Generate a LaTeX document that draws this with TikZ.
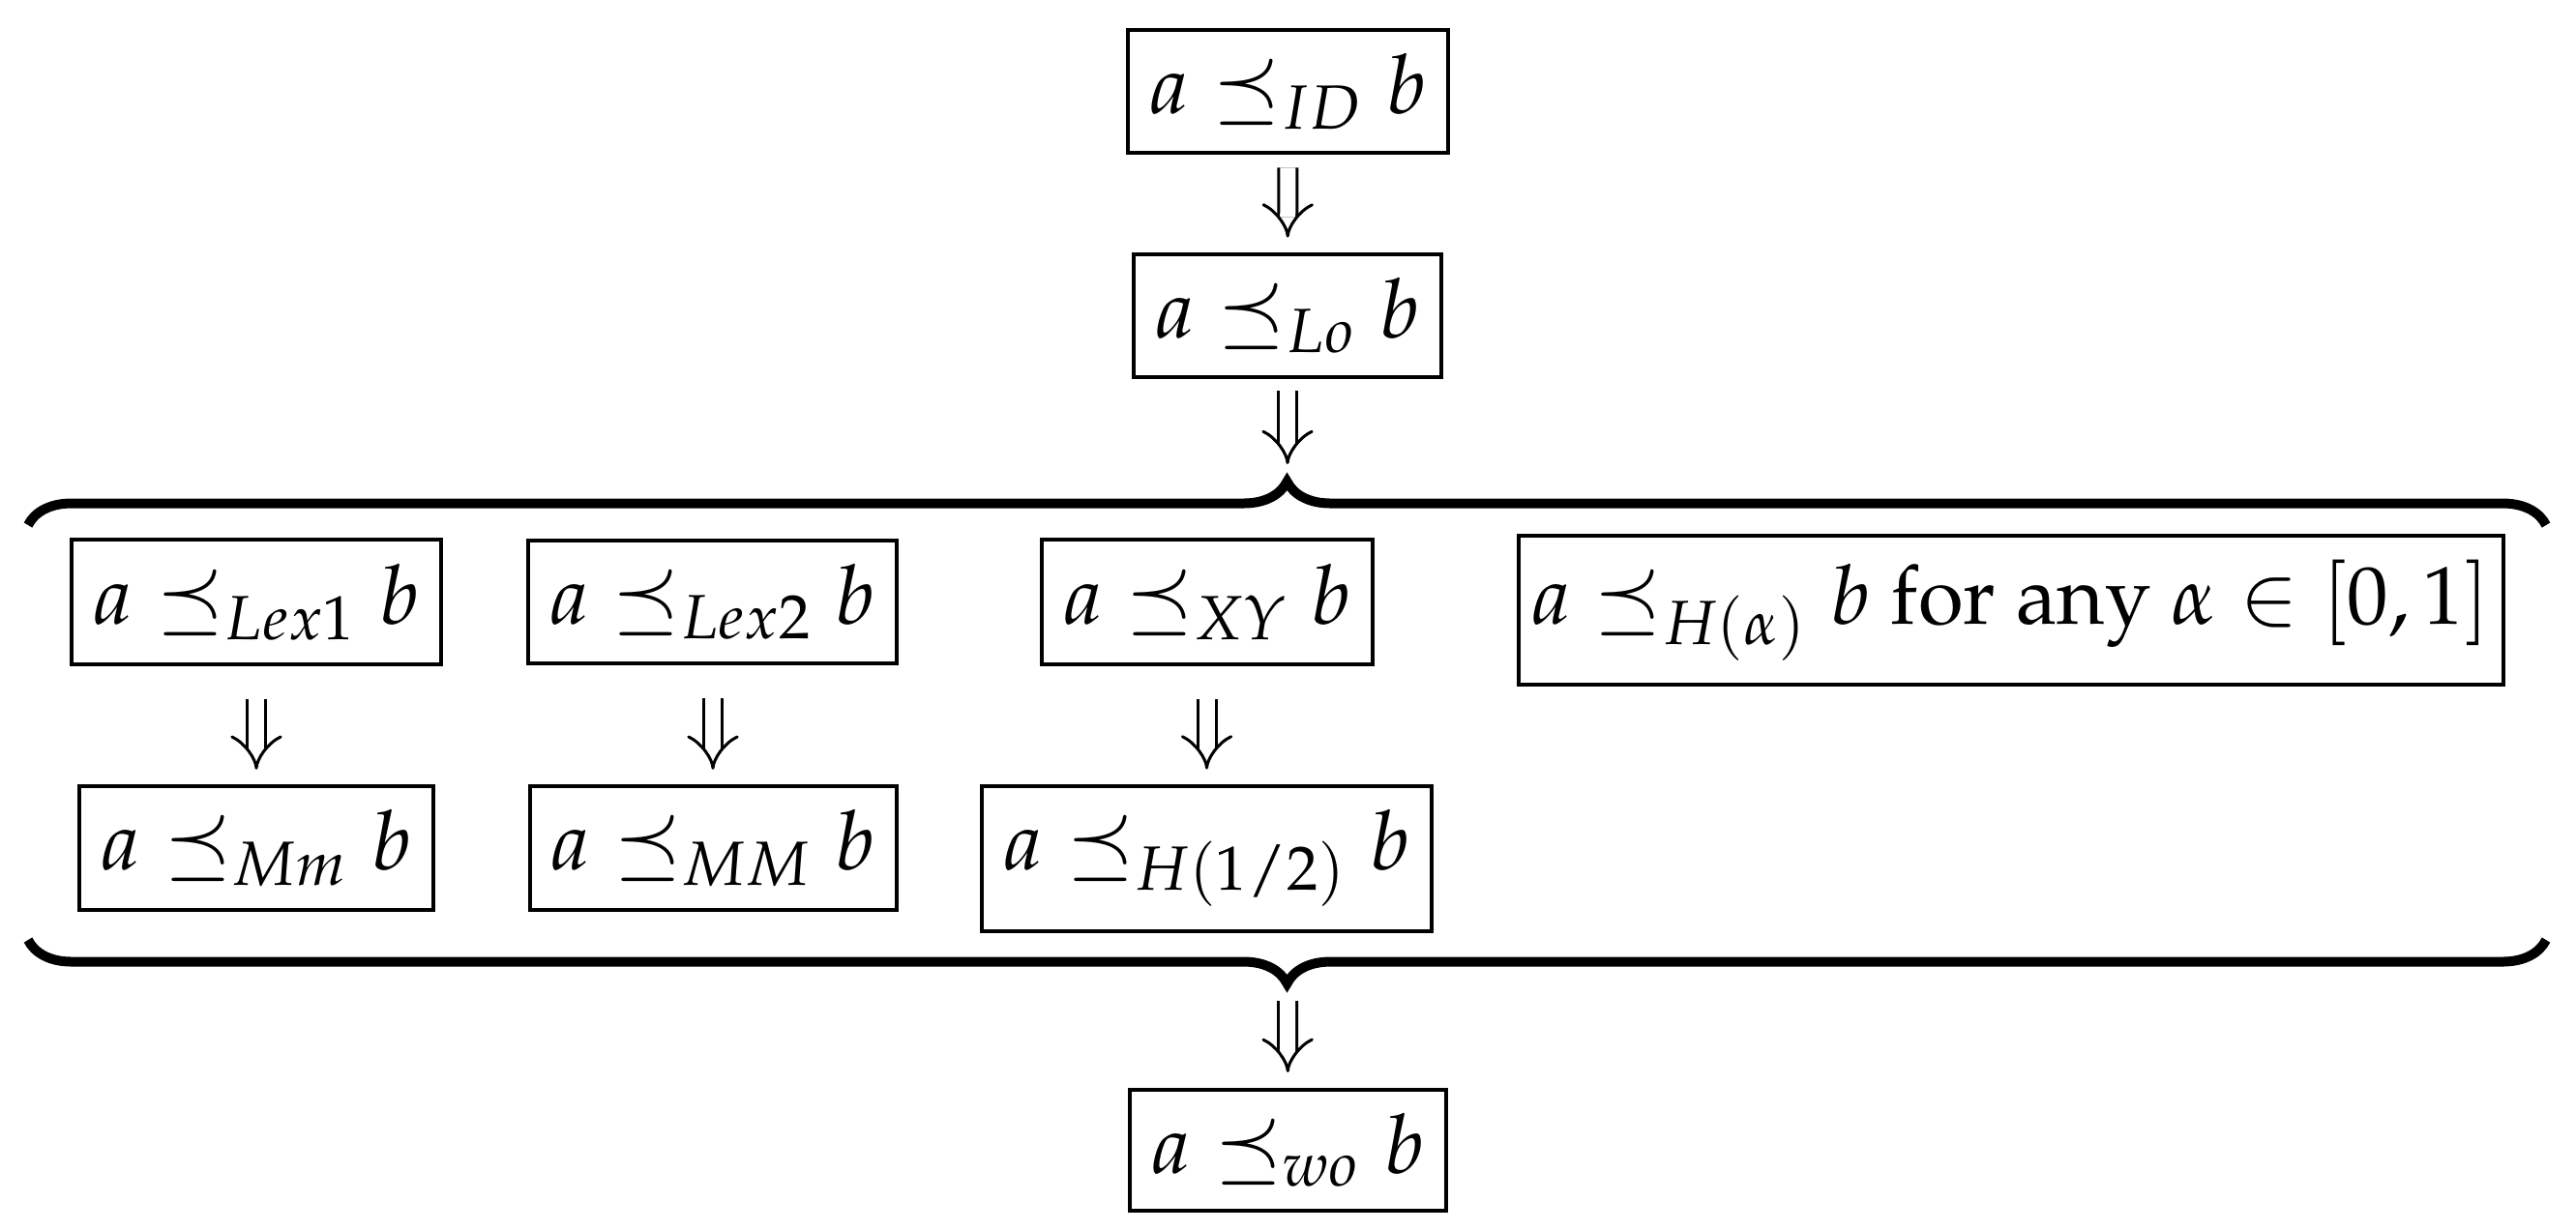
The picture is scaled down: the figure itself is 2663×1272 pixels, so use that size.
\documentclass[tikz,border=0pt]{standalone}
\usepackage[T1]{fontenc}
\usepackage{mathpazo}
\usetikzlibrary{arrows.meta,decorations.pathreplacing}
\begin{document}
\begin{tikzpicture}[x=0.2pt,y=-0.2pt,
  rel/.style={draw,line width=0.8pt,inner xsep=4.4pt,inner ysep=5pt,font=\fontsize{17}{20}\selectfont},
  impl/.style={double,double distance=3.2pt,line width=0.6pt,-{Implies[length=6.8pt,width=9.6pt]}},
  bracestyle/.style={decorate,decoration={brace,amplitude=9pt},line width=2pt}]
\useasboundingbox (0,0) rectangle (2663,1272);
\node[rel] (id) at (1331.5,94.5) {$a \preceq_{ID} b$};
\node[rel] (lo) at (1331,326.5) {$a \preceq_{Lo} b$};
\node[rel] (lex1) at (265,622.5) {$a \preceq_{Lex1} b$};
\node[rel] (lex2) at (736.5,622.5) {$a \preceq_{Lex2} b$};
\node[rel] (xy) at (1248,622.5) {$a \preceq_{XY} b$};
\node[rel,inner xsep=2.7pt] (ha) at (2078.5,631) {$a \preceq_{H(\alpha)} b$ for any $\alpha \in [0,1]$};
\node[rel] (mm1) at (265,877) {$a \preceq_{Mm} b$};
\node[rel] (mm2) at (737,877) {$a \preceq_{MM} b$};
\node[rel] (h12) at (1247.5,887.5) {$a \preceq_{H(1/2)} b$};
\node[rel] (wo) at (1331.5,1189.5) {$a \preceq_{wo} b$};
\coordinate (tl) at (29,543);
\coordinate (tr) at (2632,543);
\coordinate (bl) at (29,972);
\coordinate (br) at (2632,972);
\coordinate (toptip) at (1331,498);
\coordinate (bottip) at (1331,1017);
\draw[bracestyle] (tl) -- (tr);
\draw[bracestyle] (br) -- (bl);
\draw[impl,shorten <=2.6pt,shorten >=3pt] (id) -- (lo);
\draw[impl,shorten <=2.4pt,shorten >=3.6pt] (lo) -- (toptip);
\draw[impl,shorten <=6.8pt,shorten >=3pt] (lex1) -- (mm1);
\draw[impl,shorten <=6.8pt,shorten >=3pt] (lex2.south -| mm2.north) -- (mm2);
\draw[impl,shorten <=6.8pt,shorten >=3pt] (xy.south -| h12.north) -- (h12);
\draw[impl,shorten <=3.6pt,shorten >=3.2pt] (bottip) -- (wo);
\end{tikzpicture}
\end{document}
